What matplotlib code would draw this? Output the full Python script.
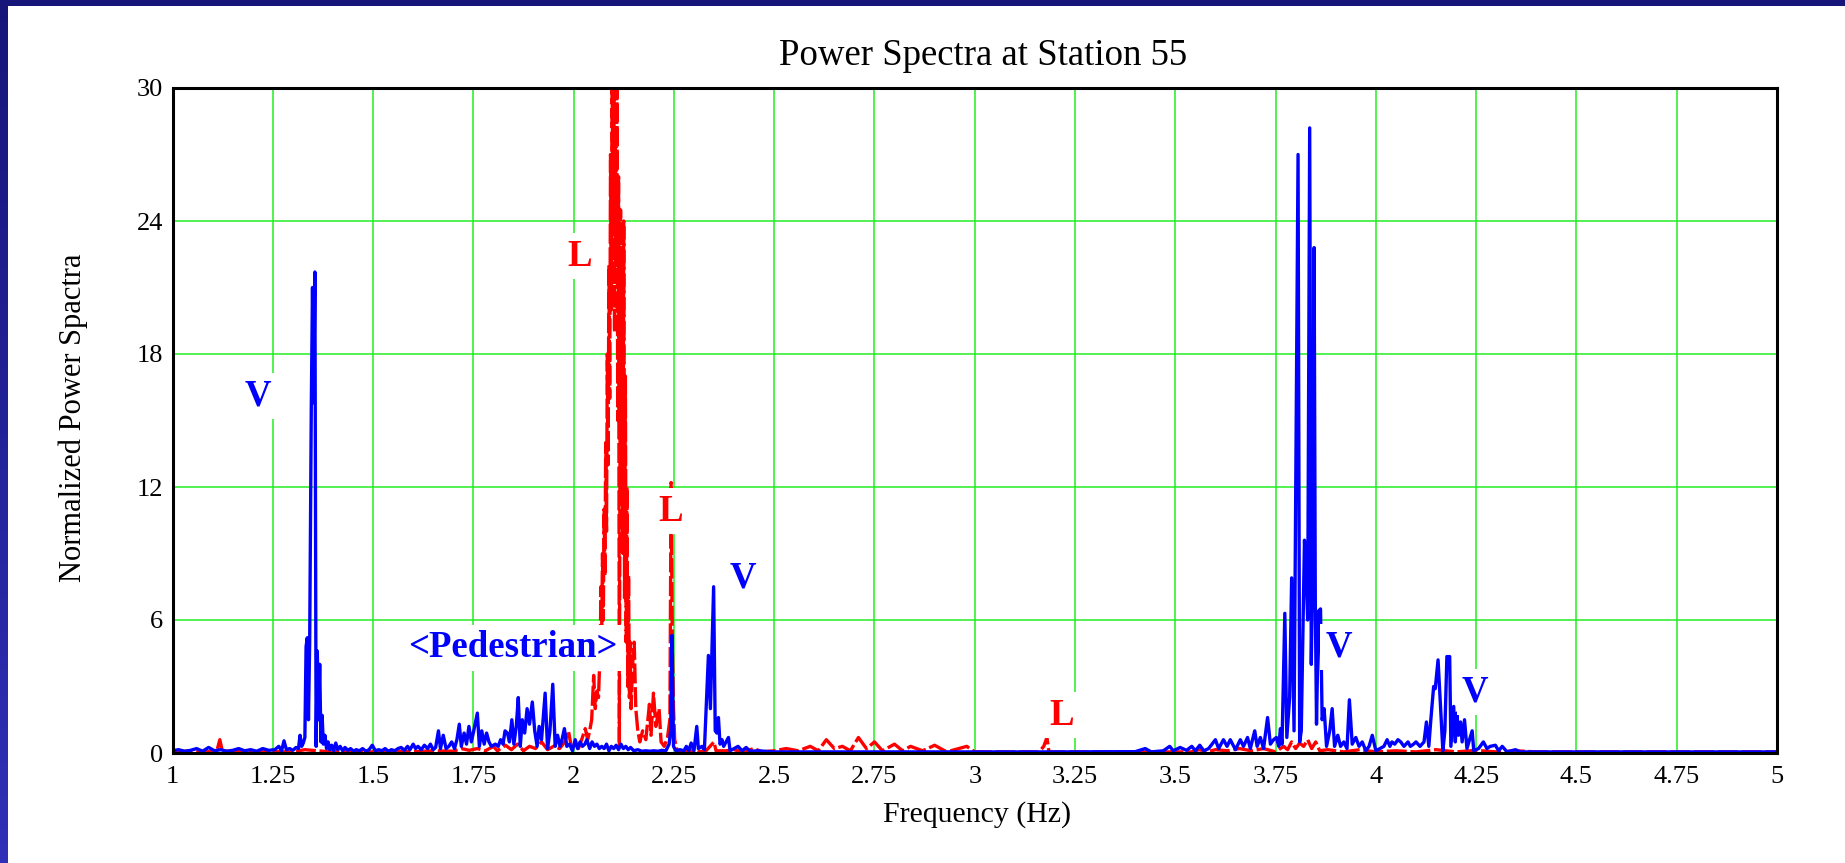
import matplotlib
matplotlib.use("Agg")
import matplotlib.pyplot as plt
import numpy as np
from matplotlib.patches import Rectangle
from matplotlib.colors import LinearSegmentedColormap

# ---------------- data ----------------
blue_f = [1.000, 1.015, 1.030, 1.045, 1.060, 1.075, 1.090, 1.105, 1.120, 1.135, 1.150, 1.165, 1.180, 1.195,
          1.210, 1.225, 1.240, 1.255, 1.265, 1.272, 1.278, 1.284, 1.292, 1.300, 1.308, 1.314, 1.318, 1.322,
          1.326, 1.330, 1.333, 1.336, 1.339, 1.342, 1.346, 1.349, 1.352, 1.355, 1.358, 1.361, 1.364, 1.367,
          1.370, 1.373, 1.376, 1.380, 1.384, 1.388, 1.392, 1.397, 1.402, 1.407, 1.412, 1.418, 1.424, 1.430,
          1.437, 1.444, 1.451, 1.458, 1.466, 1.474, 1.482, 1.490, 1.498, 1.506, 1.514, 1.522, 1.530, 1.538,
          1.546, 1.554, 1.562, 1.570, 1.578, 1.586, 1.592, 1.600, 1.606, 1.612, 1.620, 1.628, 1.636, 1.643,
          1.650, 1.656, 1.663, 1.668, 1.675, 1.682, 1.689, 1.696, 1.703, 1.709, 1.715, 1.720, 1.727, 1.733,
          1.739, 1.745, 1.751, 1.760, 1.765, 1.771, 1.777, 1.783, 1.789, 1.795, 1.805, 1.812, 1.818, 1.824,
          1.829, 1.835, 1.840, 1.846, 1.851, 1.857, 1.862, 1.867, 1.872, 1.878, 1.884, 1.890, 1.897, 1.903,
          1.909, 1.914, 1.920, 1.929, 1.935, 1.941, 1.948, 1.954, 1.960, 1.966, 1.971, 1.977, 1.983, 1.990,
          1.997, 2.004, 2.010, 2.016, 2.022, 2.028, 2.033, 2.040, 2.046, 2.052, 2.058, 2.064, 2.070, 2.076,
          2.082, 2.088, 2.094, 2.100, 2.106, 2.112, 2.118, 2.124, 2.130, 2.136, 2.142, 2.150, 2.160, 2.170,
          2.180, 2.190, 2.200, 2.210, 2.220, 2.230, 2.238, 2.242, 2.245, 2.249, 2.255, 2.265, 2.275, 2.281,
          2.287, 2.293, 2.300, 2.307, 2.311, 2.320, 2.326, 2.336, 2.341, 2.349, 2.353, 2.357, 2.361, 2.365,
          2.370, 2.374, 2.386, 2.390, 2.400, 2.410, 2.420, 2.430, 2.440, 2.460, 2.500, 2.600, 2.800, 3.000,
          3.200, 3.400, 3.425, 3.440, 3.470, 3.486, 3.495, 3.512, 3.528, 3.541, 3.550, 3.561, 3.571, 3.583,
          3.600, 3.608, 3.620, 3.629, 3.637, 3.650, 3.662, 3.670, 3.680, 3.687, 3.698, 3.704, 3.712, 3.720,
          3.730, 3.737, 3.745, 3.752, 3.758, 3.762, 3.766, 3.773, 3.778, 3.785, 3.790, 3.796, 3.806, 3.810,
          3.814, 3.822, 3.826, 3.830, 3.835, 3.839, 3.842, 3.846, 3.849, 3.852, 3.857, 3.862, 3.866, 3.871,
          3.877, 3.885, 3.891, 3.897, 3.905, 3.912, 3.920, 3.928, 3.934, 3.941, 3.950, 3.958, 3.966, 3.975,
          3.983, 3.991, 4.000, 4.010, 4.020, 4.028, 4.035, 4.040, 4.047, 4.055, 4.062, 4.070, 4.080, 4.086,
          4.094, 4.100, 4.110, 4.120, 4.126, 4.132, 4.137, 4.144, 4.148, 4.155, 4.160, 4.167, 4.172, 4.177,
          4.184, 4.187, 4.194, 4.198, 4.202, 4.206, 4.211, 4.215, 4.221, 4.227, 4.240, 4.244, 4.256, 4.268,
          4.277, 4.285, 4.298, 4.306, 4.315, 4.327, 4.348, 4.360, 4.500, 4.700, 5.000]
blue_v = [0.10, 0.15, 0.08, 0.12, 0.20, 0.08, 0.25, 0.10, 0.15, 0.08, 0.12, 0.20, 0.10, 0.15,
          0.08, 0.20, 0.12, 0.15, 0.30, 0.10, 0.55, 0.15, 0.20, 0.12, 0.25, 0.20, 0.80, 0.30,
          0.45, 0.70, 4.8, 5.2, 1.5, 5.0, 15.6, 21.0, 15.8, 21.7, 0.3, 4.6, 1.5, 4.0,
          0.5, 1.7, 0.4, 0.8, 0.2, 0.5, 0.15, 0.35, 0.10, 0.45, 0.15, 0.30, 0.10, 0.25,
          0.12, 0.20, 0.08, 0.15, 0.10, 0.20, 0.08, 0.15, 0.35, 0.10, 0.15, 0.10, 0.20, 0.08,
          0.15, 0.10, 0.20, 0.25, 0.12, 0.30, 0.15, 0.40, 0.20, 0.30, 0.15, 0.35, 0.20, 0.40,
          0.15, 0.25, 1.0, 0.2, 0.8, 0.2, 0.3, 0.5, 0.2, 0.6, 1.3, 0.3, 0.9, 0.4,
          1.2, 0.5, 1.0, 1.8, 0.3, 1.0, 0.4, 0.9, 0.5, 0.3, 0.4, 0.3, 0.6, 0.4,
          1.0, 0.9, 0.5, 1.5, 0.4, 1.2, 2.5, 0.3, 1.5, 0.9, 2.0, 1.3, 2.3, 1.0,
          0.3, 1.2, 0.6, 2.7, 0.2, 1.0, 3.1, 0.3, 0.8, 0.3, 0.6, 1.1, 0.3, 0.4,
          0.1, 0.6, 0.2, 0.5, 0.3, 0.4, 0.6, 0.2, 0.5, 0.3, 0.4, 0.2, 0.3, 0.2,
          0.4, 0.1, 0.3, 0.2, 0.35, 0.15, 0.4, 0.2, 0.3, 0.15, 0.25, 0.1, 0.15, 0.08,
          0.1, 0.08, 0.1, 0.08, 0.12, 0.1, 0.4, 1.0, 5.3, 0.3, 0.1, 0.15, 0.1, 0.3,
          0.1, 0.45, 0.1, 1.2, 0.2, 0.3, 0.15, 4.4, 2.0, 7.5, 1.0, 0.9, 1.6, 0.4,
          0.6, 0.3, 0.7, 0.1, 0.2, 0.3, 0.1, 0.25, 0.08, 0.1, 0.05, 0.05, 0.05, 0.05,
          0.05, 0.06, 0.2, 0.05, 0.1, 0.3, 0.1, 0.25, 0.12, 0.3, 0.1, 0.35, 0.1, 0.2,
          0.6, 0.2, 0.6, 0.3, 0.6, 0.15, 0.6, 0.3, 0.7, 0.2, 1.0, 0.3, 0.7, 0.2,
          1.6, 0.4, 0.6, 0.7, 0.3, 1.1, 0.4, 6.3, 0.7, 2.5, 7.9, 1.0, 27.0, 0.5,
          1.0, 9.6, 8.2, 6.0, 28.2, 4.0, 8.0, 22.8, 6.8, 1.3, 6.4, 6.5, 1.5, 2.0,
          0.3, 1.0, 2.0, 0.3, 0.8, 0.3, 0.5, 0.2, 2.4, 0.4, 0.7, 0.3, 0.5, 0.1,
          0.3, 0.8, 0.1, 0.2, 0.3, 0.6, 0.3, 0.5, 0.4, 0.6, 0.5, 0.3, 0.5, 0.3,
          0.4, 0.5, 0.3, 0.5, 1.4, 0.3, 1.5, 3.0, 2.9, 4.2, 2.5, 0.1, 1.0, 4.35,
          4.35, 0.3, 2.1, 0.5, 1.8, 0.8, 1.4, 0.5, 1.5, 0.2, 1.0, 0.1, 0.2, 0.5,
          0.2, 0.3, 0.35, 0.1, 0.3, 0.05, 0.15, 0.05, 0.05, 0.05, 0.05]

red_f = [1.000, 1.030, 1.060, 1.090, 1.110, 1.118, 1.124, 1.150, 1.200, 1.250, 1.300, 1.330, 1.360,
         1.400, 1.450, 1.500, 1.550, 1.600, 1.650, 1.700, 1.720, 1.740, 1.760, 1.780, 1.800, 1.810,
         1.830, 1.845, 1.860, 1.875, 1.890, 1.905, 1.920, 1.935, 1.950, 1.965, 1.978, 1.987, 1.995,
         2.005, 2.012, 2.020, 2.029, 2.035, 2.040, 2.045, 2.050, 2.054, 2.058, 2.062, 2.064, 2.066,
         2.068, 2.070, 2.072, 2.074, 2.076, 2.078, 2.080, 2.082, 2.084, 2.086, 2.088, 2.090, 2.092,
         2.094, 2.096, 2.098, 2.100, 2.102, 2.104, 2.106, 2.108, 2.110, 2.112, 2.114, 2.117, 2.119,
         2.121, 2.123, 2.125, 2.127, 2.129, 2.131, 2.133, 2.135, 2.137, 2.139, 2.141, 2.143, 2.147,
         2.151, 2.155, 2.160, 2.165, 2.172, 2.180, 2.189, 2.193, 2.199, 2.205, 2.213, 2.218, 2.226,
         2.234, 2.240, 2.243, 2.246, 2.249, 2.252, 2.258, 2.270, 2.290, 2.310, 2.330, 2.350, 2.355,
         2.380, 2.400, 2.420, 2.450, 2.470, 2.500, 2.530, 2.560, 2.590, 2.610, 2.630, 2.650, 2.670,
         2.690, 2.710, 2.730, 2.750, 2.770, 2.800, 2.820, 2.840, 2.870, 2.900, 2.930, 2.960, 2.980,
         3.000, 3.100, 3.160, 3.172, 3.180, 3.185, 3.300, 3.450, 3.540, 3.560, 3.580, 3.600, 3.630,
         3.660, 3.690, 3.720, 3.750, 3.770, 3.780, 3.790, 3.800, 3.810, 3.820, 3.830, 3.840, 3.850,
         3.860, 3.880, 3.920, 3.960, 4.000, 4.050, 4.100, 4.150, 4.200, 4.250, 4.300, 4.350, 4.400,
         5.000]
red_v = [0.05, 0.08, 0.05, 0.06, 0.05, 0.6, 0.1, 0.06, 0.05, 0.06, 0.05, 0.15, 0.1,
         0.05, 0.07, 0.05, 0.08, 0.06, 0.1, 0.08, 0.2, 0.12, 0.2, 0.1, 0.3, 0.1,
         0.35, 0.15, 0.4, 0.1, 0.3, 0.2, 0.5, 0.15, 0.3, 0.2, 0.5, 1.0, 0.2,
         0.4, 0.2, 0.6, 1.1, 0.6, 1.0, 1.5, 3.5, 2.0, 2.8, 2.5, 3.6, 4.0,
         7.5, 5.5, 9.0, 6.0, 11.0, 8.0, 14.0, 10.0, 18.0, 13.0, 22.0, 16.0, 27.0,
         20.0, 31.0, 24.0, 31.0, 19.0, 28.0, 22.0, 31.0, 15.0, 26.0, 0.3, 24.5, 12.0,
         22.0, 9.0, 24.0, 7.0, 17.0, 5.0, 12.0, 3.0, 8.0, 2.5, 5.0, 2.0, 4.0,
         5.0, 2.0, 1.0, 0.5, 1.0, 0.6, 2.2, 0.8, 2.7, 1.2, 2.0, 0.5, 0.3,
         0.7, 1.5, 12.2, 5.0, 2.0, 0.6, 0.1, 0.08, 0.1, 0.05, 0.1, 0.5, 0.1,
         0.1, 0.15, 0.05, 0.2, 0.05, 0.1, 0.2, 0.1, 0.3, 0.1, 0.6, 0.2, 0.3,
         0.1, 0.7, 0.2, 0.5, 0.1, 0.4, 0.1, 0.3, 0.1, 0.35, 0.05, 0.2, 0.3,
         0.05, 0.05, 0.05, 0.3, 0.7, 0.05, 0.05, 0.05, 0.05, 0.15, 0.05, 0.15, 0.1,
         0.2, 0.1, 0.2, 0.05, 0.3, 0.15, 0.5, 0.2, 0.45, 0.3, 0.6, 0.2, 0.5,
         0.1, 0.15, 0.05, 0.15, 0.05, 0.1, 0.05, 0.15, 0.05, 0.12, 0.05, 0.1, 0.05,
         0.05]

x_ticks = [1, 1.25, 1.5, 1.75, 2, 2.25, 2.5, 2.75, 3, 3.25, 3.5, 3.75, 4, 4.25, 4.5, 4.75, 5]
x_labels = ["1", "1.25", "1.5", "1.75", "2", "2.25", "2.5", "2.75", "3", "3.25", "3.5", "3.75",
            "4", "4.25", "4.5", "4.75", "5"]
y_ticks = [0, 6, 12, 18, 24, 30]

ann_text = ["V", "L", "L", "V", "<Pedestrian>", "V", "L", "V"]
ann_x = [1.214, 2.016, 2.242, 2.421, 1.849, 3.907, 3.217, 4.248]
ann_y = [16.1, 22.4, 10.9, 7.9, 4.74, 4.8, 1.7, 2.77]
ann_c = ["blue", "red", "red", "blue", "blue", "blue", "red", "blue"]

title = "Power Spectra at Station 55"
xlabel = "Frequency (Hz)"
ylabel = "Normalized Power Spactra"

# ---------------- figure ----------------
plt.rcParams['font.family'] = ['Liberation Serif', 'DejaVu Serif']
W, H = 1845, 863
fig = plt.figure(figsize=(W / 100, H / 100), dpi=100)
fig.patch.set_facecolor("white")

# navy frame (top strip + left strip)
fig.patches.append(Rectangle((0, 1 - 6 / H), 1, 6 / H, transform=fig.transFigure,
                             facecolor="#16167a", edgecolor="none", zorder=0))
grad_ax = fig.add_axes([0, 0, 8 / W, 1 - 6 / H])
grad = np.linspace(0, 1, 256).reshape(-1, 1)
cmap = LinearSegmentedColormap.from_list("edge", ["#16167a", "#3030b8"])
grad_ax.imshow(grad, aspect="auto", cmap=cmap, origin="upper")
grad_ax.axis("off")

left, right, top, bottom = 172.5, 1777, 88, 753
ax = fig.add_axes([left / W, 1 - bottom / H, (right - left) / W, (bottom - top) / H])

ax.plot(red_f, red_v, color="red", lw=2.4, dashes=(6, 1.1), zorder=3)
ax.plot(blue_f, blue_v, color="blue", lw=2.4, zorder=4)

ax.set_xlim(1, 5)
ax.set_ylim(0, 30)
ax.set_xticks(x_ticks)
ax.set_xticklabels(x_labels)
ax.set_yticks(y_ticks)
ax.tick_params(axis="both", length=0, labelsize=19, colors="black")
ax.tick_params(axis="x", pad=9)
ax.tick_params(axis="y", pad=7)
ax.grid(True, color="#22ee22", lw=1.1, zorder=1)
ax.set_axisbelow(True)
for s in ax.spines.values():
    s.set_linewidth(2.2)
    s.set_color("black")
    s.set_zorder(6)

for t, x, y, c in zip(ann_text, ann_x, ann_y, ann_c):
    ax.text(x, y, t, color=c, fontsize=26.5, fontweight="bold", ha="center", va="center",
            zorder=5, bbox=dict(facecolor="white", edgecolor="none", pad=4))

fig.text(983 / W, 1 - 56 / H, title, ha="center", va="center", fontsize=26.5)
fig.text(977 / W, 1 - 815 / H, xlabel, ha="center", va="center", fontsize=21.5)
fig.text(73 / W, 1 - 418 / H, ylabel, ha="center", va="center", fontsize=22, rotation=90)

fig.savefig("out.png", dpi=100, facecolor="white")
